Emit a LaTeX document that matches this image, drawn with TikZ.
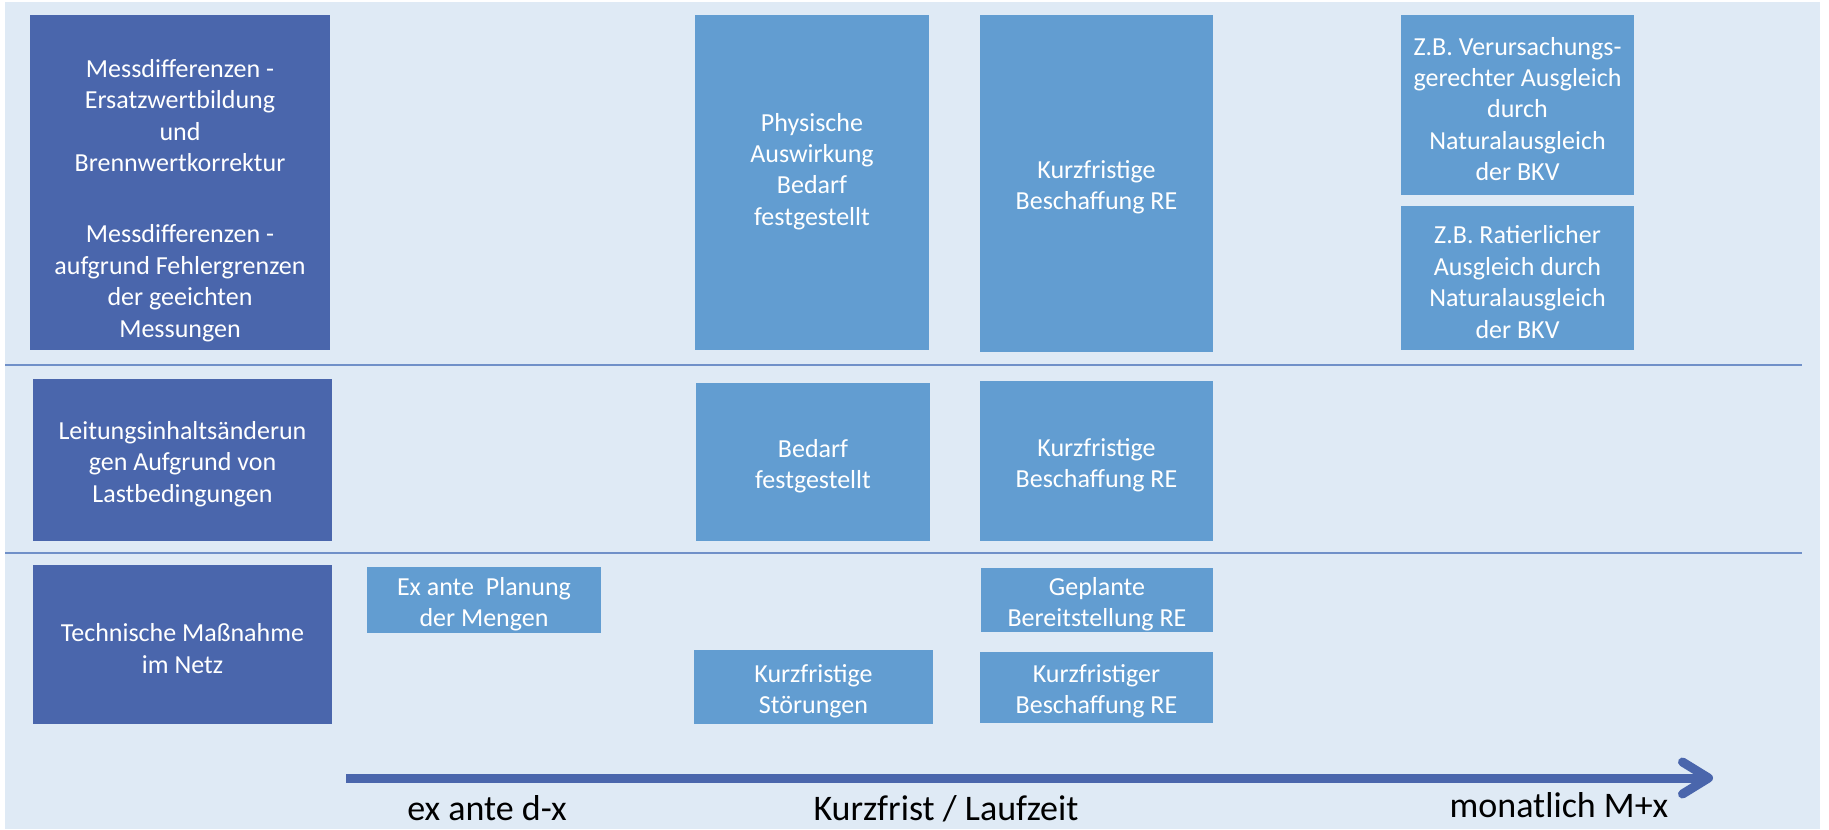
\documentclass[tikz,border=0pt]{standalone}
\usepackage{fontspec}
\setmainfont{Carlito}
\usetikzlibrary{arrows.meta,positioning}
\definecolor{hintergrund}{HTML}{DFEAF5}
\definecolor{dunkelblau}{HTML}{4A66AC}
\definecolor{hellblau}{HTML}{629DD1}
\definecolor{trennlinie}{HTML}{7090C8}
\newcommand{\feldfont}{\fontsize{13}{15.7}\selectfont}
\newcommand{\feld}[7][-2pt]{\node [#2, minimum width = #5,
  minimum height = #6] (#3) at (#4) {};
  \node [feldtext] (#3-text) at ([yshift = #1]#3.center) {#7};}

\begin{document}
\begin{tikzpicture}[x = 0.5pt, y = -0.5pt,
    feld/.style = {inner sep = 0pt},
    feldtext/.style = {inner sep = 0pt, text = white, align = center,
      font = \feldfont},
    dunkel/.style = {feld, fill = dunkelblau},
    hell/.style = {feld, fill = hellblau},
    zeile/.style = {trennlinie, line width = 1pt},
    achse/.style = {font = \fontsize{18}{22}\selectfont, anchor = base},
  ]
    \useasboundingbox (0,0) rectangle (1829,829);
    \fill [hintergrund] (5,2) rectangle (1820,829);

    % Zeilen
    \draw [zeile] (5,365) -- (1802,365);
    \draw [zeile] (5,553) -- (1802,553);

    % erste Zeile
    \feld[-9pt]{dunkel}{mess}{180,182.5}{150pt}{167.5pt}{Messdifferenzen -\\
      Ersatzwertbildung\\ und\\ Brennwertkorrektur\\[20pt]
      Messdifferenzen -\\ aufgrund Fehlergrenzen\\ der geeichten\\ Messungen}
    \feld[5.5pt]{hell}{phys}{812,182.5}{117pt}{167.5pt}
      {Physische\\ Auswirkung\\ Bedarf\\ festgestellt}
    \feld{hell}{kurz1}{1096.5,183.5}{116.5pt}{168.5pt}
      {Kurzfristige\\ Beschaffung RE}
    \feld{hell}{verurs}{1517.5,105}{116.5pt}{90pt}{Z.B. Verursachungs-\\
      gerechter Ausgleich\\ durch\\ Naturalausgleich\\ der BKV}
    \feld{hell}{ratier}{1517.5,278}{116.5pt}{72pt}{Z.B. Ratierlicher\\
      Ausgleich durch\\ Naturalausgleich\\ der BKV}

    % zweite Zeile
    \feld{dunkel}{leit}{182.5,460}{149.5pt}{81pt}{Leitungsinhaltsänderun\\
      gen Aufgrund von\\ Lastbedingungen}
    \feld{hell}{bedarf}{813,462}{117pt}{79pt}{Bedarf\\ festgestellt}
    \feld{hell}{kurz2}{1096.5,461}{116.5pt}{80pt}
      {Kurzfristige\\ Beschaffung RE}

    % dritte Zeile
    \feld{dunkel}{techn}{182.5,644.5}{149.5pt}{79.5pt}
      {Technische Maßnahme\\ im Netz}
    \feld{hell}{exante}{484,600}{117pt}{33pt}{Ex ante\ \ Planung\\ der Mengen}
    \feld{hell}{geplant}{1097,600}{116pt}{32pt}
      {Geplante\\ Bereitstellung RE}
    \feld{hell}{stoer}{813.5,687}{119.5pt}{37pt}{Kurzfristige\\ Störungen}
    \feld{hell}{kurz3}{1096.5,687.5}{116.5pt}{35.5pt}
      {Kurzfristiger\\ Beschaffung RE}

    % Zeitachse
    \coordinate (zeit-start) at (346,778);
    \coordinate (zeit-ende) at (1713,778);
    \draw [dunkelblau, line width = 4.5pt,
      -{Straight Barb[length = 13pt, width = 16pt, round]}]
      (zeit-start) -- (zeit-ende);
    \node [achse] (exante-label) at (487,820) {ex ante d-x};
    \node [achse] (kurzfrist-label) at (946,820) {Kurzfrist / Laufzeit};
    \node [achse] (monat-label) at (1559,817) {monatlich M+x};
  \end{tikzpicture}
\end{document}
